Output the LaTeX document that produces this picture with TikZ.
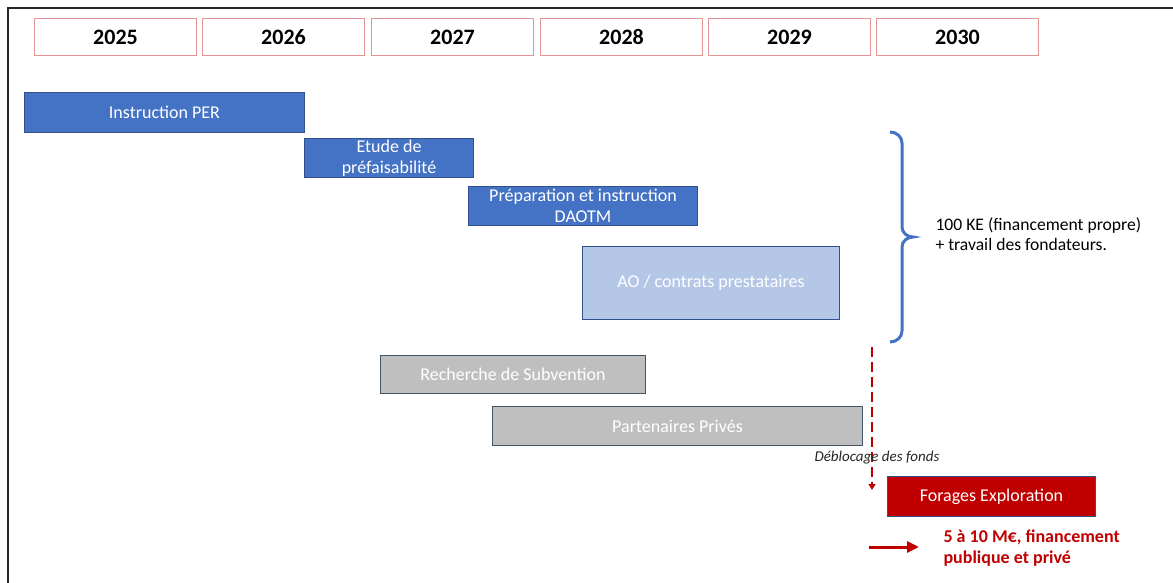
\documentclass[tikz,border=0pt]{standalone}
\usepackage{fontspec}
\setmainfont{Carlito}
\usetikzlibrary{arrows.meta}

\definecolor{barblue}{HTML}{4472C4}
\definecolor{barlight}{HTML}{B4C7E7}
\definecolor{bargray}{HTML}{BFBFBF}
\definecolor{barred}{HTML}{C00000}
\definecolor{barline}{HTML}{2F528F}
\definecolor{grayline}{HTML}{44546A}
\definecolor{yearred}{HTML}{E59393}

\tikzset{
  yearbox/.style={draw=yearred, line width=1pt, minimum width=162pt, minimum height=37pt,
    anchor=north west, inner sep=0pt, font=\fontsize{22}{26}\selectfont\bfseries},
  bar/.style={draw=barline, line width=1pt, anchor=north west, inner sep=0pt,
    text=white, align=center, font=\fontsize{18}{21}\selectfont},
  brace/.style={draw=barblue, line width=3pt},
  redtext/.style={text=barred, align=left, anchor=west, font=\fontsize{18}{21}\selectfont\bfseries},
}

\begin{document}
\begin{tikzpicture}[x=1pt,y=-1pt]
\useasboundingbox (0,0) rectangle (1173,583);

% Rahmen
\draw[line width=2pt, black!85] (8,583) -- (8,8) -- (1173,8);

% Jahre
\foreach \yr/\xx in {2025/34, 2026/202, 2027/371, 2028/540, 2029/708, 2030/876}
  \node[yearbox] (y\yr) at (\xx,18) {\yr};

% Phasen
\node[bar, fill=barblue, minimum width=280pt, minimum height=40pt] (per) at (24,92) {Instruction PER};
\node[bar, fill=barblue, minimum width=169pt, minimum height=39pt] (etude) at (304,138) {Etude de\\pr\'efaisabilit\'e};
\node[bar, fill=barblue, minimum width=229pt, minimum height=39pt] (daotm) at (468,186) {Pr\'eparation et instruction\\DAOTM};
\node[bar, fill=barlight, minimum width=257pt, minimum height=73pt] (ao) at (582,246) {AO / contrats prestataires};

%Finanzierung
\node[bar, draw=grayline, fill=bargray, minimum width=265pt, minimum height=38pt] (subv) at (380,355) {Recherche de Subvention};
\node[bar, draw=grayline, fill=bargray, minimum width=370pt, minimum height=39pt] (priv) at (492,406) {Partenaires Priv\'es};
\node[bar, fill=barred, minimum width=208pt, minimum height=40pt] (forages) at (887,476) {Forages Exploration};

% Klammer
\draw[brace] (890,132) to[out=0,in=90] (902,143) -- (902,227) to[out=-90,in=180] (913,237)
  to[out=180,in=90] (902,247) -- (902,331) to[out=-90,in=0] (890,342);
\node[align=left, anchor=west, font=\fontsize{17.6}{19.5}\selectfont] (fonds) at (932,234)
  {100 KE (financement propre)\\+ travail des fondateurs.};

% Pfeile
\coordinate (dtop) at (872,347);
\coordinate (dtip) at (872,490);
\draw[barred, line width=2pt, dash pattern=on 10pt off 5pt, -{Triangle[length=6pt,width=7pt]}] (dtop) -- (dtip);
\node[font=\fontsize{15}{18}\selectfont\itshape, text=black!85] (debloc) at (877,458) {D\'eblocage des fonds};

\coordinate (rstart) at (869,547);
\coordinate (rend) at (919,547);
\node[redtext] (budget) at (940,548) {5 \`a 10 M€, financement\\publique et priv\'e};
\draw[barred, line width=3pt, -{Triangle[length=12pt,width=11pt]}] (rstart) -- (rend);

\end{tikzpicture}
\end{document}
